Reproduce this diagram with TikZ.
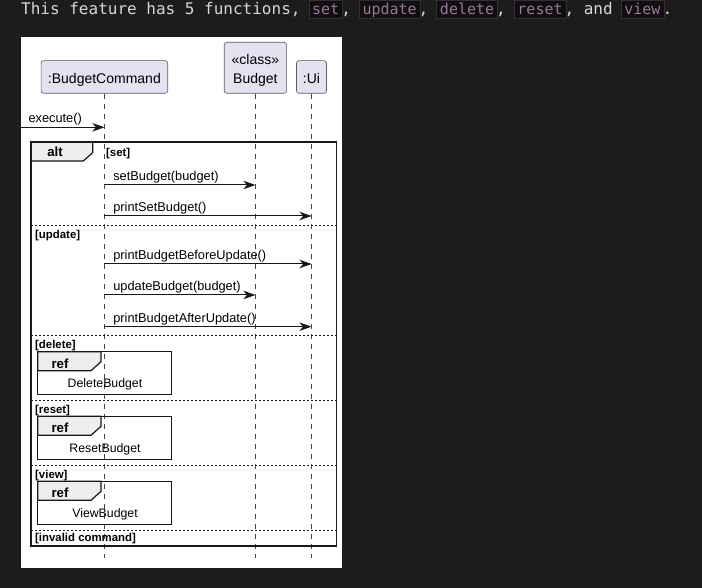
\documentclass[tikz,border=0pt]{standalone}
\usepackage{fontspec}
\setmainfont{Liberation Sans}
\newfontfamily\monofont{DejaVu Sans Mono}
\usetikzlibrary{arrows.meta,positioning}
\definecolor{pagebg}{RGB}{28,28,28}
\definecolor{plaintext}{RGB}{214,214,214}
\definecolor{codetext}{RGB}{150,122,148}
\definecolor{codebg}{RGB}{17,13,17}
\definecolor{codeline}{RGB}{50,46,50}
\definecolor{partfill}{RGB}{226,226,240}
\definecolor{umlline}{RGB}{24,24,24}
\definecolor{tabfill}{RGB}{238,238,238}
\newcommand{\codeword}[1]{\hspace{-1.5pt}{\fboxsep=3pt\fboxrule=0.5pt%
  \fcolorbox{codeline}{codebg}{\fontsize{15}{18}\selectfont\color{codetext}%
  \rule[-0.5pt]{0pt}{11.3pt}\smash{#1}}}\hspace{-1.5pt}}
\tikzstyle{participant} = [draw=umlline!70, fill=partfill, rounded corners=2.5pt,
    line width=0.6pt, inner sep=0pt, minimum height=32.6pt, text depth=0pt,
    text height=12.6pt, font=\fontsize{14}{19}\selectfont]
\tikzstyle{stereotype} = [anchor=base, inner sep=0pt, font=\fontsize{14}{19}\selectfont]
\tikzstyle{lifeline} = [draw=umlline!80, line width=0.6pt, dash pattern=on 5pt off 5pt]
\tikzstyle{message} = [draw=umlline, line width=1pt, ->]
\tikzstyle{msglabel} = [pos=0, anchor=base west, inner sep=0pt, xshift=8.4pt,
    yshift=4.4pt, font=\fontsize{12.8}{15}\selectfont]
\tikzstyle{altframe} = [draw=umlline, line width=1.5pt]
\tikzstyle{refbox} = [draw=umlline, line width=1.3pt]
\tikzstyle{reftab} = [draw=umlline, fill=tabfill, line width=1.2pt]
\tikzstyle{framename} = [inner sep=0pt, font=\bfseries\fontsize{13.2}{15}\selectfont]
\tikzstyle{guard} = [anchor=west, inner sep=0pt, yshift=-1.2pt,
    font=\bfseries\fontsize{11.4}{13}\selectfont]
\tikzstyle{separator} = [draw=umlline, line width=0.8pt, dash pattern=on 2pt off 2pt]
\tikzstyle{refname} = [inner sep=0pt, yshift=-1.2pt, font=\fontsize{12.3}{14}\selectfont]

\begin{document}
\begin{tikzpicture}[x=1pt, y=-1pt, >={Stealth[length=12pt,width=8.5pt,inset=3.5pt]}]

    % We start with the page, the sentence and the white sheet
    \fill[pagebg] (0,0) rectangle (702,588);
    \useasboundingbox (0,0) rectangle (702,588);
    \node[anchor=base west, inner sep=0pt, text=plaintext,
          font=\monofont\fontsize{16}{19}\selectfont] (intro) at (21,14.3)
          {This feature has 5 functions, \codeword{set}, \codeword{update}, \codeword{delete}, \codeword{reset}, and \codeword{view}.};
    \fill[white] (21,37) rectangle (342,568);

    % Then the participants and their lifelines
    \node[participant, minimum width=126.6pt] (bc) at (104.4,77) {:BudgetCommand};
    \node[participant, minimum width=62.4pt, minimum height=51pt, text height=31pt] (budget) at (255.4,67.8) {Budget};
    \node[stereotype] (budgetclass) at (budget |- 0,64.7) {«class»};
    \node[participant, minimum width=30pt] (ui) at (311.5,77) {:Ui};
    \coordinate (bcend) at (bc |- 0,558);
    \coordinate (budgetend) at (budget |- 0,558);
    \coordinate (uiend) at (ui |- 0,558);
    \draw[lifeline] (bc) -- (bcend);
    \draw[lifeline] (budget) -- (budgetend);
    \draw[lifeline] (ui) -- (uiend);

    % The incoming call
    \coordinate (caller) at (21,127.3);
    \draw[message] (caller) -- node[msglabel, xshift=-1.4pt] {execute()} (bc |- caller);

    % The alt frame with its tab
    \coordinate (altnw) at (31,142);
    \coordinate (altse) at (336.7,546);
    \draw[reftab] (altnw) -- ++(61.7,0) -- ++(0,10.7) -- ++(-9.4,8.3) -- ++(-52.3,0) -- cycle;
    \draw[altframe] (altnw) rectangle (altse);
    \node[framename] (alt) at (55,151.5) {alt};

    % [set]
    \node[guard] (gset) at (106,152.7) {[set]};
    \draw[message] (bc |- 0,185) -- node[msglabel] {setBudget(budget)} (budget |- 0,185);
    \draw[message] (bc |- 0,216) -- node[msglabel] {printSetBudget()} (ui |- 0,216);

    % [update]
    \draw[separator] (altnw |- 0,225) -- (altse |- 0,225);
    \node[guard] (gupdate) at (35,234) {[update]};
    \draw[message] (bc |- 0,264) -- node[msglabel] {printBudgetBeforeUpdate()} (ui |- 0,264);
    \draw[message] (bc |- 0,295) -- node[msglabel] {updateBudget(budget)} (budget |- 0,295);
    \draw[message] (bc |- 0,326.7) -- node[msglabel] {printBudgetAfterUpdate()} (ui |- 0,326.7);

    % [delete]
    \draw[separator] (altnw |- 0,335.7) -- (altse |- 0,335.7);
    \node[guard] (gdelete) at (35,344.3) {[delete]};
    \coordinate (delnw) at (37.7,351.7);
    \draw[reftab] (delnw) -- ++(63.3,0) -- ++(0,10) -- ++(-10,9) -- ++(-53.3,0) -- cycle;
    \draw[refbox] (delnw) rectangle ++(134,42.6);
    \node[framename] (delref) at ([shift={(22.3,11.6)}]delnw) {ref};
    \node[refname] (deltext) at ([shift={(67.3,31)}]delnw) {DeleteBudget};

    % [reset]
    \draw[separator] (altnw |- 0,400.3) -- (altse |- 0,400.3);
    \node[guard] (greset) at (35,409) {[reset]};
    \coordinate (resnw) at (37.7,416.3);
    \draw[reftab] (resnw) -- ++(63.3,0) -- ++(0,10) -- ++(-10,9) -- ++(-53.3,0) -- cycle;
    \draw[refbox] (resnw) rectangle ++(134,43.4);
    \node[framename] (resref) at ([shift={(22.3,11.6)}]resnw) {ref};
    \node[refname] (restext) at ([shift={(67.3,31.4)}]resnw) {ResetBudget};

    % [view]
    \draw[separator] (altnw |- 0,465.3) -- (altse |- 0,465.3);
    \node[guard] (gview) at (35,474) {[view]};
    \coordinate (viewnw) at (37.7,481.3);
    \draw[reftab] (viewnw) -- ++(63.3,0) -- ++(0,10) -- ++(-10,9) -- ++(-53.3,0) -- cycle;
    \draw[refbox] (viewnw) rectangle ++(134,43.4);
    \node[framename] (viewref) at ([shift={(22.3,11.6)}]viewnw) {ref};
    \node[refname] (viewtext) at ([shift={(67.3,31.4)}]viewnw) {ViewBudget};

    % [invalid command]
    \draw[separator] (altnw |- 0,530.3) -- (altse |- 0,530.3);
    \node[guard] (ginvalid) at (35,537.7) {[invalid command]};

\end{tikzpicture}
\end{document}
